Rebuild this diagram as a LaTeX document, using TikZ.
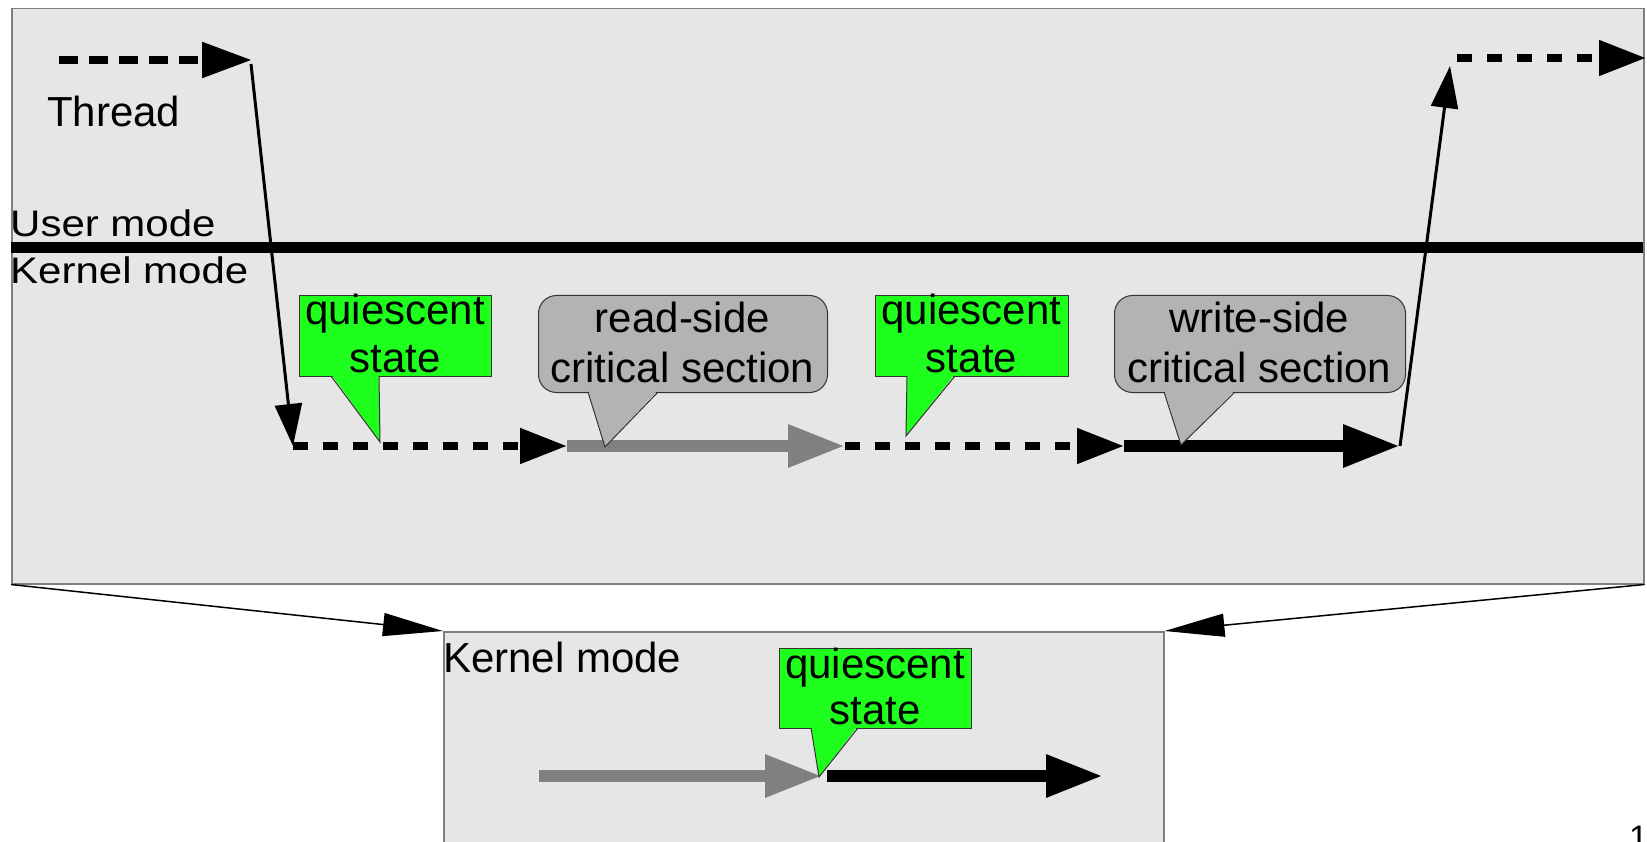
\documentclass[tikz,border=0pt]{standalone}
\usepackage{fontspec}
\setmainfont{Liberation Sans}
\usetikzlibrary{arrows.meta}
\definecolor{panelgray}{HTML}{E6E6E6}
\definecolor{framegray}{HTML}{7F7F7F}
\definecolor{qsgreen}{RGB}{30,255,30}
\definecolor{csgray}{HTML}{B3B3B3}
\definecolor{readgray}{HTML}{808080}
\definecolor{edgegray}{HTML}{333333}

\begin{document}
\begin{tikzpicture}[x=1pt,y=-1pt,
  panel/.style={draw=framegray, fill=panelgray, line width=1.5pt, inner sep=0pt, anchor=north west},
  lbl/.style={font=\fontsize{42}{48}\selectfont, inner sep=0pt, anchor=base},
  lblw/.style={lbl, anchor=base west},
  qsbox/.style={draw=edgegray, line width=1pt, fill=qsgreen, inner sep=0pt, anchor=north west},
  csbox/.style={draw=edgegray, line width=1pt, fill=csgray, inner sep=0pt, anchor=north west, rounded corners=18pt},
  tipedge/.style={draw=edgegray, line width=1pt},
  dashlong/.style={line width=8.5pt, dash pattern=on 19pt off 11pt, -{Triangle[length=50pt,width=34pt]}},
  dashshort/.style={line width=8pt, dash pattern=on 15pt off 15pt, -{Triangle[length=47pt,width=34pt]}},
  modejump/.style={line width=3pt, -{Triangle[length=42pt,width=27pt]}},
  section/.style={line width=12pt, -{Triangle[length=57pt,width=40pt]}},
  zoomlink/.style={line width=1.5pt, -{Triangle[length=60pt,width=23pt]}},
]
\path[use as bounding box] (0,0) rectangle (1647,842);
\clip (0,0) rectangle (1647,842);

% panels
\node[panel, minimum width=1632pt, minimum height=575pt] (upper) at (11,8) {};
\node[panel, minimum width=720pt, minimum height=260pt] (lower) at (443,631) {};

% links from the upper panel to the enlarged view
\draw[zoomlink] (upper.south west) -- (lower.north west);
\draw[zoomlink] (upper.south east) -- (lower.north east);

% user / kernel boundary
\coordinate (kl) at (11,248);
\coordinate (kr) at (1643,248);
\draw[line width=11pt] (kl) -- (kr);

\node[lblw] (thread) at (47,127) {Thread};
\node[lblw] (user) at (10,237) {\scalebox{1}[0.88]{User mode}};
\node[lblw] (kernel) at (10,284) {\scalebox{1}[0.88]{Kernel mode}};
\node[lblw] (kernel2) at (443,672) {Kernel mode};

% thread path
\coordinate (t0) at (59,60);
\coordinate (t1) at (252,60);
\coordinate (t1b) at (251,64);
\coordinate (t3) at (293,446);
\coordinate (t4) at (567,446);
\coordinate (t5) at (845,446);
\coordinate (t6) at (1124,446);
\coordinate (t7) at (1400,446);
\coordinate (t8) at (1450,66);
\coordinate (t9) at (1457,58);
\coordinate (t10) at (1646,58);

\draw[dashlong] (t0) -- (t1);
\draw[modejump] (t1b) -- (t3);
\draw[dashshort] (t3) -- (t4);
\draw[section, readgray] (t4) -- (t5);
\draw[dashshort] (t5) -- (t6);
\draw[section] (t6) -- (t7);
\draw[modejump] (t7) -- (t8);
\draw[dashshort] (t9) -- (t10);

% enlarged view
\coordinate (b0) at (539,776);
\coordinate (b1) at (822,776);
\coordinate (b2) at (827,776);
\coordinate (b3) at (1103,776);
\draw[section, readgray] (b0) -- (b1);
\draw[section] (b2) -- (b3);

% callout: quiescent state (1)
\node[qsbox, minimum width=192pt, minimum height=81pt] (qs1) at (299,295) {};
\fill[qsgreen] (331,374) -- (380,442) -- (379,374) -- cycle;
\draw[tipedge] (331,376) -- (380,442) -- (379,376);
\node[lbl] (qs1a) at (395,325) {quiescent};
\node[lbl] (qs1b) at (395,372) {state};

% callout: read-side critical section
\node[csbox, minimum width=289pt, minimum height=97pt] (rs) at (538,295) {};
\fill[csgray] (588,390) -- (605,447) -- (658,390) -- cycle;
\draw[tipedge] (588,392) -- (605,447) -- (658,392);
\node[lbl] (rsa) at (682.5,333) {read-side};
\node[lbl] (rsb) at (682.5,382) {critical section};

% callout: quiescent state (2)
\node[qsbox, minimum width=193pt, minimum height=81pt] (qs2) at (875,295) {};
\fill[qsgreen] (907,374) -- (906,436) -- (955,374) -- cycle;
\draw[tipedge] (907,376) -- (906,436) -- (955,376);
\node[lbl] (qs2a) at (971.5,325) {quiescent};
\node[lbl] (qs2b) at (971.5,372) {state};

% callout: write-side critical section
\node[csbox, minimum width=291pt, minimum height=97pt] (ws) at (1114,295) {};
\fill[csgray] (1164,390) -- (1181,445) -- (1235,390) -- cycle;
\draw[tipedge] (1164,392) -- (1181,445) -- (1235,392);
\node[lbl] (wsa) at (1259.5,333) {write-side};
\node[lbl] (wsb) at (1259.5,382) {critical section};

% callout: quiescent state in the enlarged view
\node[qsbox, minimum width=192pt, minimum height=80pt] (qs3) at (779,648) {};
\fill[qsgreen] (811,726) -- (819,777) -- (858,726) -- cycle;
\draw[tipedge] (811,728) -- (819,777) -- (858,728);
\node[lbl] (qs3a) at (875,678) {quiescent};
\node[lbl] (qs3b) at (875,724) {state};

% page number
\node[inner sep=0pt, anchor=base west, font=\fontsize{34}{40}\selectfont] (pageno) at (1629,849) {1};
\end{tikzpicture}
\end{document}
